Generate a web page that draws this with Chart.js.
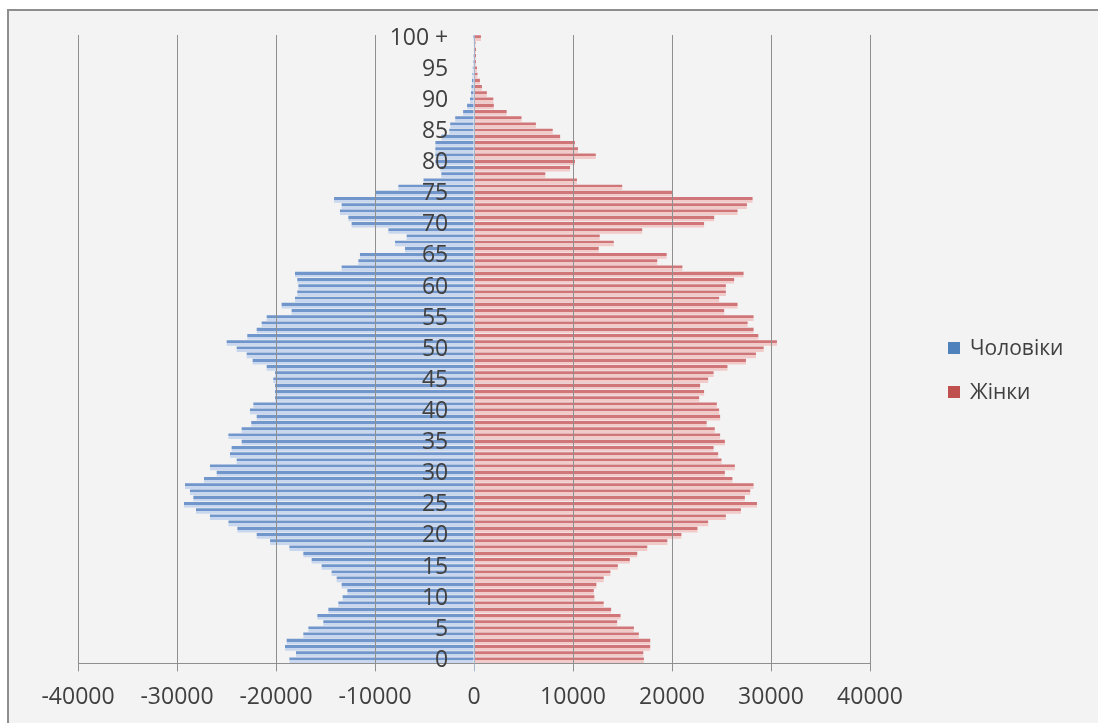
<!DOCTYPE html>
<html>
<head>
<meta charset="utf-8">
<script src="https://cdn.jsdelivr.net/npm/chart.js@4"></script>
<style>
  html, body { margin: 0; padding: 0; background: #ffffff; width: 1098px; height: 723px; overflow: hidden; }
  .frame { position: absolute; left: 7px; top: 9px; width: 1100px; height: 720px; border: 2px solid #8e8e8e; background: #f3f3f3; }
  #wrap { position: absolute; left: 0; top: 0; width: 1098px; height: 723px; }
  .legend { position: absolute; left: 948px; font-family: "Open Sans", sans-serif; font-size: 21px; color: #404040; }
  .legend div { position: absolute; white-space: nowrap; line-height: 24px; }
  .legend span { display: inline-block; width: 12px; height: 12px; margin-right: 10px; vertical-align: 1px; }
</style>
</head>
<body>
<div class="frame"></div>
<div id="wrap"><canvas id="pyramid" width="1098" height="723"></canvas></div>
<div class="legend">
  <div style="top:335px"><span style="background:#4f81bd"></span>Чоловіки</div>
  <div style="top:379px"><span style="background:#c0504d"></span>Жінки</div>
</div>
<script>
// age groups 0..99 and "100 +"
const ages = [];
for (let i = 0; i < 100; i++) ages.push(String(i));
ages.push("100 +");

// men, plotted to the left (negative)
const men = [
  -18650, -17980, -19090, -18920, -17240, -16730, -15220, -15820, -14710, -13700,
  -13270, -12790, -13370, -13870, -14380, -15390, -16400, -17240, -18650, -20600,
  -21950, -23900, -24800, -26670, -28080, -29290, -28350, -28690, -29190, -27270,
  -25990, -26670, -23970, -24650, -24480, -23470, -24810, -23470, -22500, -21950,
  -22630, -22290, -20100, -20100, -20100, -20270, -20100, -20940, -22360, -22960,
  -23970, -24980, -22900, -21950, -21450, -20940, -18420, -19430, -18080, -17850,
  -17740, -17850, -18080, -13370, -11680, -11520, -6970, -7980, -6800, -8650,
  -12360, -12690, -13540, -13370, -14140, -10000, -7640, -5100, -3300, -3400,
  -3900, -3900, -3900, -3900, -3300, -2500, -2400, -1900, -1100, -700,
  -400, -300, -250, -200, -150, -120, -100, -80, -60, -40,
  -100
];

// women, plotted to the right
const women = [
  17160, 17100, 17800, 17800, 16650, 16150, 14460, 14800, 13850, 13100,
  12160, 12100, 12360, 13100, 13780, 14530, 15740, 16490, 17500, 19530,
  20950, 22570, 23650, 25440, 26960, 28580, 27360, 27900, 28240, 26100,
  25340, 26350, 25000, 24660, 24200, 25340, 24860, 24320, 23500, 24860,
  24760, 24530, 22740, 23240, 22840, 23650, 24200, 25600, 27470, 28480,
  29260, 30600, 28720, 28240, 27640, 28240, 25270, 26620, 24760, 25440,
  25440, 26280, 27230, 21050, 18510, 19460, 12600, 14120, 12700, 16990,
  23240, 24260, 26620, 27570, 28140, 20030, 14970, 10400, 7200, 9700,
  10200, 12300, 10500, 10200, 8700, 7950, 6250, 4800, 3300, 2000,
  1950, 1300, 800, 600, 350, 300, 200, 200, 200, 150,
  700
];

const xTicks = [-40000, -30000, -20000, -10000, 0, 10000, 20000, 30000, 40000];

// striped fill like the Excel gradient bars
function stripe(dark, light) {
  return function (ctx) {
    const chart = ctx.chart;
    if (!chart.chartArea || ctx.dataIndex === undefined) return dark;
    const y = chart.scales.y.getPixelForValue(ctx.dataIndex);
    const g = chart.ctx.createLinearGradient(0, y - 3, 0, y + 3);
    g.addColorStop(0, dark);
    g.addColorStop(0.5, dark);
    g.addColorStop(0.5, light);
    g.addColorStop(1, light);
    return g;
  };
}

const tickFont = { family: "Open Sans", size: 23 };

new Chart(document.getElementById("pyramid"), {
  type: "bar",
  data: {
    labels: ages,
    datasets: [
      {
        label: "Чоловіки",
        data: men,
        backgroundColor: stripe("#7196cb", "#c8d7ed"),
        barPercentage: 0.9,
        categoryPercentage: 1.0,
      },
      {
        label: "Жінки",
        data: women,
        backgroundColor: stripe("#d07578", "#f1caca"),
        barPercentage: 0.9,
        categoryPercentage: 1.0,
      },
    ],
  },
  options: {
    indexAxis: "y",
    responsive: false,
    animation: false,
    devicePixelRatio: 1,
    layout: { padding: { left: 78, right: 228, top: 35, bottom: 0 } },
    plugins: {
      legend: { display: false },
      tooltip: { enabled: false },
    },
    scales: {
      x: {
        stacked: true,
        min: -40000,
        max: 40000,
        afterBuildTicks: (scale) => {
          scale.ticks = xTicks.map((v) => ({ value: v }));
        },
        grid: {
          color: (c) => (c.tick && c.tick.value === 0 ? "#a7b6ca" : "#8f8f8f"),
          lineWidth: 1,
          tickLength: 8,
          z: 1,
        },
        border: { color: "#8f8f8f", z: 1 },
        ticks: {
          font: tickFont,
          color: "#404040",
          padding: 12,
          maxRotation: 0,
          callback: (v) => String(v),
        },
      },
      y: {
        stacked: true,
        reverse: true,
        // labels sit just left of the zero line
        position: { x: -2600 },
        grid: { display: false, drawTicks: false },
        border: { display: false },
        ticks: {
          autoSkip: false,
          font: tickFont,
          color: "#404040",
          z: 2,
          callback: function (v, i) {
            return i % 5 === 0 ? this.getLabelForValue(v) : "";
          },
        },
      },
    },
  },
});
</script>
</body>
</html>
